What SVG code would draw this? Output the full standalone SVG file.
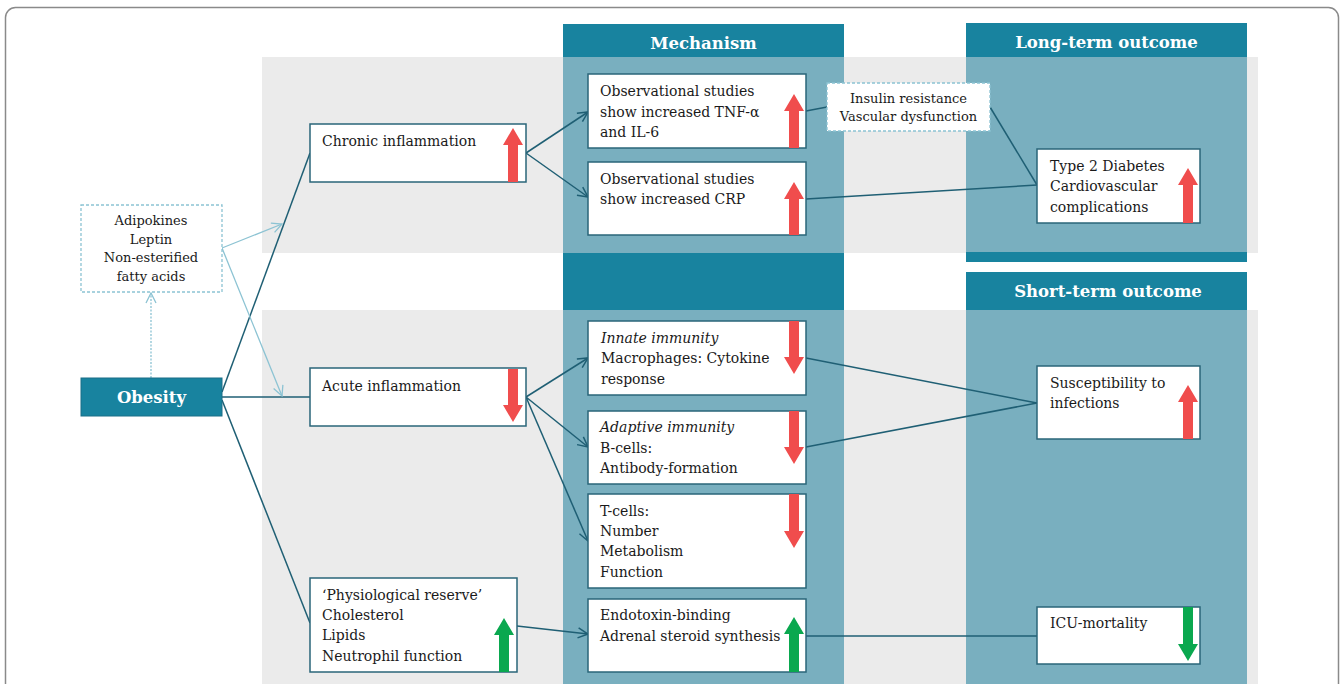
<svg xmlns="http://www.w3.org/2000/svg" width="1343" height="684" viewBox="0 0 1343 684">
<defs>
<style>
.t{font-family:"DejaVu Serif","Liberation Serif",serif;font-size:14px;fill:#1a1a1a}
.s{font-family:"DejaVu Serif","Liberation Serif",serif;font-size:13px;fill:#1a1a1a}
.h{font-family:"DejaVu Serif","Liberation Serif",serif;font-size:16.5px;font-weight:bold;fill:#ffffff}
.box{fill:#ffffff;stroke:#2a6679;stroke-width:1.5}
.dash{fill:#ffffff;stroke:#8cc3d3;stroke-width:1.3;stroke-dasharray:3 2}
.hdr{fill:#18839f}
.col{fill:#79afbf}
.band{fill:#ebebeb}
.red{fill:#f04d4d}
.grn{fill:#0aa84f}
.c{fill:none;stroke:#1f5f74;stroke-width:1.5}
.lc{fill:none;stroke:#8cc3d3;stroke-width:1.3}
</style>
<marker id="ah" viewBox="0 0 12 12" refX="11" refY="6" markerWidth="12" markerHeight="12" markerUnits="userSpaceOnUse" orient="auto">
<path d="M1,1 L11,6 L1,11" fill="none" stroke="#1f5f74" stroke-width="1.5"/>
</marker>
<marker id="lah" viewBox="0 0 12 12" refX="11" refY="6" markerWidth="12" markerHeight="12" markerUnits="userSpaceOnUse" orient="auto">
<path d="M1,1 L11,6 L1,11" fill="none" stroke="#8cc3d3" stroke-width="1.3"/>
</marker>
</defs>
<rect x="0" y="0" width="1343" height="684" fill="#ffffff"/>
<rect x="5.5" y="7.5" width="1333" height="700" rx="10" fill="none" stroke="#8a8a8a" stroke-width="1.5"/>
<g id="background">
<rect class="band" x="262" y="57" width="996" height="196"/>
<rect class="band" x="262" y="310" width="996" height="380"/>
<rect class="col" x="563" y="57" width="281" height="196"/>
<rect class="hdr" x="563" y="24" width="281" height="33"/>
<rect class="hdr" x="563" y="253" width="281" height="57"/>
<rect class="col" x="563" y="310" width="281" height="380"/>
<rect class="hdr" x="966" y="23" width="281" height="34"/>
<rect class="col" x="966" y="57" width="281" height="196"/>
<rect class="hdr" x="966" y="252" width="281" height="10"/>
<rect class="hdr" x="966" y="272" width="281" height="38"/>
<rect class="col" x="966" y="310" width="281" height="380"/>
<text class="h" x="703.5" y="49" text-anchor="middle">Mechanism</text>
<text class="h" x="1106.5" y="48" text-anchor="middle">Long-term outcome</text>
<text class="h" x="1108" y="297" text-anchor="middle">Short-term outcome</text>
</g>
<g id="connectors">
<line class="c" x1="222" y1="392" x2="310" y2="153"/>
<line class="c" x1="222" y1="397" x2="310" y2="397"/>
<line class="c" x1="222" y1="400" x2="310" y2="623"/>
<line class="c" x1="526" y1="153" x2="588" y2="112" marker-end="url(#ah)"/>
<line class="c" x1="526" y1="153" x2="588" y2="197" marker-end="url(#ah)"/>
<line class="c" x1="806" y1="111" x2="827" y2="107"/>
<line class="c" x1="990" y1="107" x2="1037" y2="185"/>
<line class="c" x1="806" y1="199" x2="1037" y2="185"/>
<line class="c" x1="526" y1="397" x2="588" y2="358" marker-end="url(#ah)"/>
<line class="c" x1="526" y1="397" x2="588" y2="447" marker-end="url(#ah)"/>
<line class="c" x1="526" y1="397" x2="588" y2="541" marker-end="url(#ah)"/>
<line class="c" x1="806" y1="358" x2="1037" y2="403"/>
<line class="c" x1="806" y1="447" x2="1037" y2="403"/>
<line class="c" x1="517" y1="626" x2="588" y2="634" marker-end="url(#ah)"/>
<line class="c" x1="806" y1="636" x2="1037" y2="636"/>
<line class="lc" x1="151" y1="378" x2="151" y2="293" stroke-dasharray="2 1.5" marker-end="url(#lah)"/>
<line class="lc" x1="222" y1="248" x2="282" y2="224" marker-end="url(#lah)"/>
<line class="lc" x1="222" y1="248" x2="282" y2="396" marker-end="url(#lah)"/>
</g>
<g id="adipokines">
<rect class="dash" x="81" y="205" width="141" height="87"/>
<text class="s" text-anchor="middle"><tspan x="151" y="225">Adipokines</tspan><tspan x="151" y="244">Leptin</tspan><tspan x="151" y="262">Non-esterified</tspan><tspan x="151" y="281">fatty acids</tspan></text>
</g>
<g id="obesity">
<rect x="81" y="378" width="141" height="38" fill="#18839f" stroke="#1a6f87" stroke-width="1"/>
<text class="h" x="151.5" y="403" text-anchor="middle">Obesity</text>
</g>
<g id="chronic">
<rect class="box" x="310" y="124" width="216" height="58"/>
<text class="t" x="322" y="146">Chronic inflammation</text>
<path class="red" d="M513,128 L523,145 L518,145 L518,182 L508,182 L508,145 L503,145 Z"/>
</g>
<g id="acute">
<rect class="box" x="310" y="368" width="216" height="58"/>
<text class="t" x="322" y="391">Acute inflammation</text>
<path class="red" d="M513,422 L523,405 L518,405 L518,369 L508,369 L508,405 L503,405 Z"/>
</g>
<g id="reserve">
<rect class="box" x="310" y="578" width="207" height="94"/>
<text class="t"><tspan x="322" y="600">‘Physiological reserve’</tspan><tspan x="322" y="620">Cholesterol</tspan><tspan x="322" y="640">Lipids</tspan><tspan x="322" y="661">Neutrophil function</tspan></text>
<path class="grn" d="M504,618 L514,635 L509,635 L509,672 L499,672 L499,635 L494,635 Z"/>
</g>
<g id="tnf">
<rect class="box" x="588" y="74" width="218" height="74"/>
<text class="t"><tspan x="600" y="96">Observational studies</tspan><tspan x="600" y="117">show increased TNF-α</tspan><tspan x="600" y="137">and IL-6</tspan></text>
<path class="red" d="M794,94 L804,111 L799,111 L799,148 L789,148 L789,111 L784,111 Z"/>
</g>
<g id="crp">
<rect class="box" x="588" y="162" width="218" height="73"/>
<text class="t"><tspan x="600" y="184">Observational studies</tspan><tspan x="600" y="204">show increased CRP</tspan></text>
<path class="red" d="M794,182 L804,199 L799,199 L799,235 L789,235 L789,199 L784,199 Z"/>
</g>
<g id="insulin">
<rect class="dash" x="827" y="83" width="163" height="48"/>
<text class="s" text-anchor="middle"><tspan x="908.5" y="103">Insulin resistance</tspan><tspan x="908.5" y="121">Vascular dysfunction</tspan></text>
</g>
<g id="diabetes">
<rect class="box" x="1037" y="149" width="163" height="74"/>
<text class="t"><tspan x="1050" y="171">Type 2 Diabetes</tspan><tspan x="1050" y="191">Cardiovascular</tspan><tspan x="1050" y="212">complications</tspan></text>
<path class="red" d="M1188,168 L1198,185 L1193,185 L1193,223 L1183,223 L1183,185 L1178,185 Z"/>
</g>
<g id="innate">
<rect class="box" x="588" y="321" width="218" height="74"/>
<text class="t"><tspan x="601" y="343" font-style="italic">Innate immunity</tspan><tspan x="601" y="363">Macrophages: Cytokine</tspan><tspan x="601" y="384">response</tspan></text>
<path class="red" d="M794,374 L804,357 L799,357 L799,321 L789,321 L789,357 L784,357 Z"/>
</g>
<g id="adaptive">
<rect class="box" x="588" y="411" width="218" height="73"/>
<text class="t"><tspan x="600" y="432" font-style="italic">Adaptive immunity</tspan><tspan x="600" y="453">B-cells:</tspan><tspan x="600" y="473">Antibody-formation</tspan></text>
<path class="red" d="M794,464 L804,447 L799,447 L799,411 L789,411 L789,447 L784,447 Z"/>
</g>
<g id="tcells">
<rect class="box" x="588" y="494" width="218" height="94"/>
<text class="t"><tspan x="600" y="516">T-cells:</tspan><tspan x="600" y="536">Number</tspan><tspan x="600" y="556">Metabolism</tspan><tspan x="600" y="577">Function</tspan></text>
<path class="red" d="M794,548 L804,531 L799,531 L799,494 L789,494 L789,531 L784,531 Z"/>
</g>
<g id="endotoxin">
<rect class="box" x="588" y="599" width="218" height="73"/>
<text class="t"><tspan x="600" y="620">Endotoxin-binding</tspan><tspan x="600" y="641">Adrenal steroid synthesis</tspan></text>
<path class="grn" d="M794,617 L804,634 L799,634 L799,672 L789,672 L789,634 L784,634 Z"/>
</g>
<g id="susceptibility">
<rect class="box" x="1037" y="366" width="163" height="73"/>
<text class="t"><tspan x="1050" y="388">Susceptibility to</tspan><tspan x="1050" y="408">infections</tspan></text>
<path class="red" d="M1188,385 L1198,402 L1193,402 L1193,439 L1183,439 L1183,402 L1178,402 Z"/>
</g>
<g id="icu">
<rect class="box" x="1037" y="607" width="163" height="57"/>
<text class="t" x="1050" y="628">ICU-mortality</text>
<path class="grn" d="M1188,661 L1198,644 L1193,644 L1193,607 L1183,607 L1183,644 L1178,644 Z"/>
</g>
</svg>
